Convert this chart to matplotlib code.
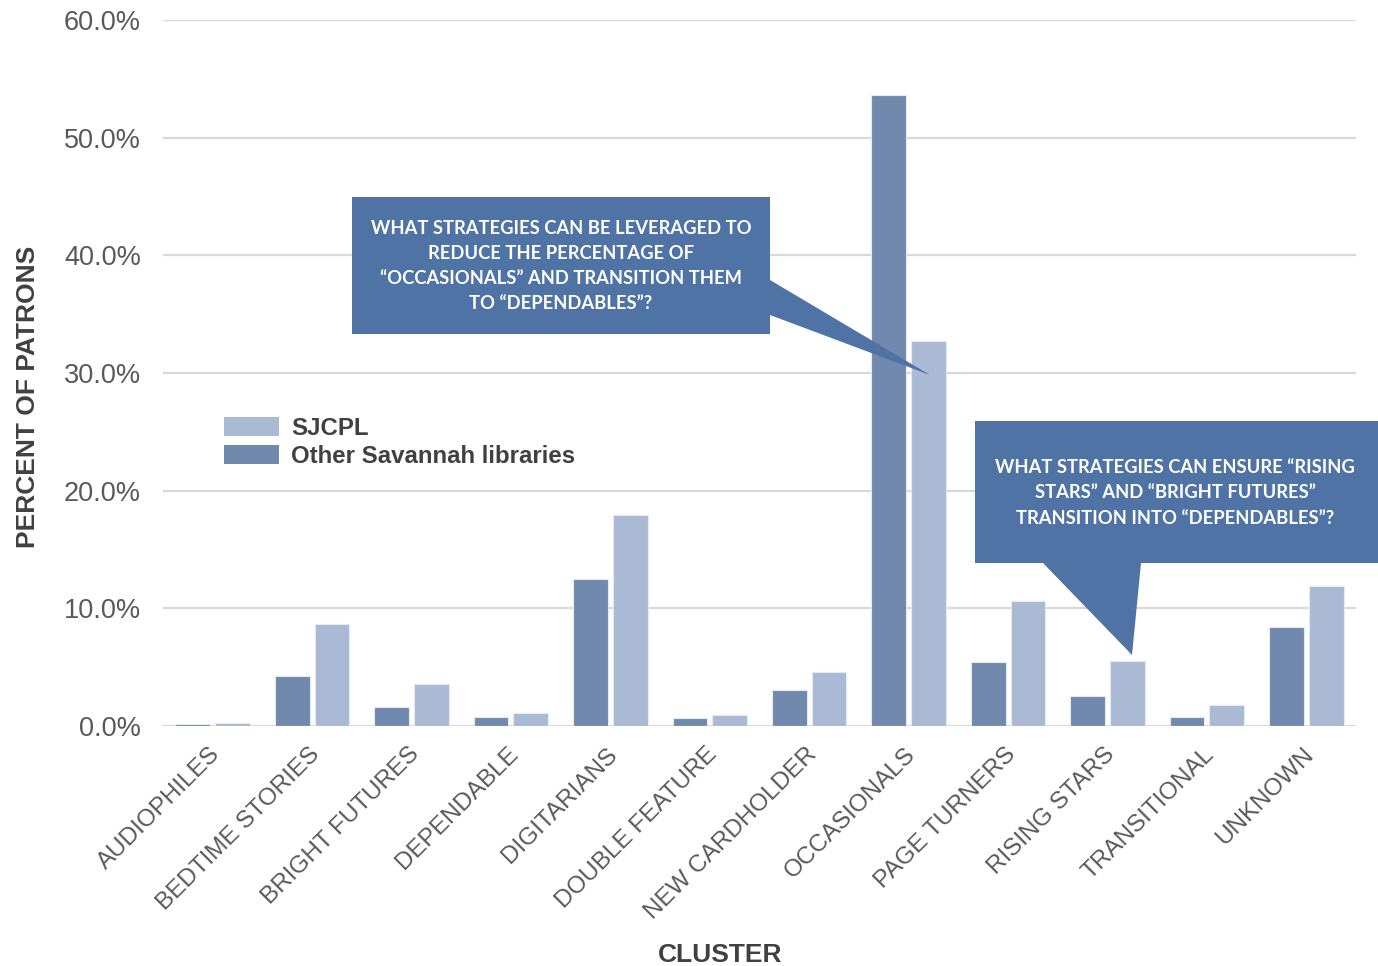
import matplotlib
matplotlib.use("Agg")

import matplotlib.pyplot as plt
import matplotlib.transforms as mtransforms
import numpy as np
from matplotlib import font_manager
from matplotlib.patches import Patch, Polygon


clusters = ["AUDIOPHILES", "BEDTIME STORIES", "BRIGHT FUTURES", "DEPENDABLE",
            "DIGITARIANS", "DOUBLE FEATURE", "NEW CARDHOLDER", "OCCASIONALS",
            "PAGE TURNERS", "RISING STARS", "TRANSITIONAL", "UNKNOWN"]
other_pct = [0.2, 4.25, 1.65, 0.75, 12.5, 0.65, 3.05, 53.6, 5.45, 2.55, 0.75, 8.4]
sjcpl_pct = [0.25, 8.65, 3.55, 1.1, 17.9, 0.95, 4.55, 32.7, 10.6, 5.5, 1.8, 11.9]
y_ticks = [0, 10, 20, 30, 40, 50, 60]

callout_1 = ("WHAT STRATEGIES CAN BE LEVERAGED TO\nREDUCE THE PERCENTAGE OF\n"
             "\u201cOCCASIONALS\u201d AND TRANSITION THEM\nTO \u201cDEPENDABLES\u201d?")
callout_2 = ("WHAT STRATEGIES CAN ENSURE \u201cRISING\nSTARS\u201d AND \u201cBRIGHT FUTURES\u201d\n"
             "TRANSITION INTO \u201cDEPENDABLES\u201d?")

SJCPL_COLOR = "#AABAD4"
OTHER_COLOR = "#7189AC"
CALLOUT_COLOR = "#4E73A4"
TEXT_COLOR = "#595959"
LABEL_COLOR = "#404040"

W, H = 1378, 966

installed = {f.name for f in font_manager.fontManager.ttflist}
narrow = "Liberation Sans Narrow" if "Liberation Sans Narrow" in installed else "Liberation Sans"

plt.rcParams["font.family"] = ["Liberation Sans", "DejaVu Sans"]


def px(x, y):
    # pixel position in the picture -> figure fraction
    return (x / W, 1 - y / H)


fig = plt.figure(figsize=(W / 100, H / 100), dpi=100)
ax = fig.add_axes([163 / W, 1 - 726 / H, (1356 - 163) / W, (726 - 20) / H])

x = np.arange(len(clusters))
width = 0.35
ax.bar(x - 0.2, other_pct, width, color=OTHER_COLOR, edgecolor="#E4EAF2", linewidth=0.8, zorder=2)
ax.bar(x + 0.2, sjcpl_pct, width, color=SJCPL_COLOR, edgecolor="#E4EAF2", linewidth=0.8, zorder=2)

ax.set_xlim(-0.5, len(clusters) - 0.5)
ax.set_ylim(0, 60)
ax.set_yticks(y_ticks)
ax.set_yticklabels([f"{v:.1f}%" for v in y_ticks], fontsize=19.5, color=TEXT_COLOR)
ax.tick_params(axis="y", length=0, pad=16)
ax.grid(axis="y", color="#D9D9D9", linewidth=1.6, zorder=0)
ax.set_axisbelow(True)
for side in ax.spines:
    ax.spines[side].set_visible(False)

ax.set_xticks(x)
ax.set_xticklabels(clusters, fontsize=17.5, color=TEXT_COLOR, rotation=45,
                   ha="right", va="center", rotation_mode="anchor")
ax.tick_params(axis="x", length=0, pad=18)
# nudge the rotated labels a little to the right
shift = mtransforms.ScaledTranslation(4 / 100, 0, fig.dpi_scale_trans)
for lbl in ax.get_xticklabels():
    lbl.set_transform(lbl.get_transform() + shift)

fig.text(*px(28, 397), "PERCENT OF PATRONS", rotation=90, ha="center", va="center",
         fontsize=19, fontweight="bold", color=LABEL_COLOR)
fig.text(*px(720, 955), "CLUSTER", ha="center", va="center",
         fontsize=22 if narrow != "Liberation Sans" else 19, fontweight="bold",
         color=LABEL_COLOR, family=[narrow, "DejaVu Sans"])

handles = [Patch(facecolor=SJCPL_COLOR), Patch(facecolor=OTHER_COLOR)]
ax.legend(handles, ["SJCPL", "Other Savannah libraries"], loc="upper left",
          bbox_to_anchor=px(224, 417), bbox_transform=fig.transFigure,
          frameon=False, borderpad=0, borderaxespad=0, handlelength=2.3,
          handleheight=0.85, handletextpad=0.5, labelspacing=0.2,
          prop={"size": 17.3, "weight": "bold"}, labelcolor=LABEL_COLOR)

box_1 = [(352, 197), (770, 197), (770, 280), (930, 375), (770, 315), (770, 334), (352, 334)]
box_2 = [(975, 421), (1378, 421), (1378, 563), (1141, 563), (1132, 655), (1043, 563), (975, 563)]
for pts in (box_1, box_2):
    fig.patches.append(Polygon([px(*p) for p in pts], closed=True, facecolor=CALLOUT_COLOR,
                               edgecolor="none", transform=fig.transFigure, zorder=5))

fig.text(*px(561, 266), callout_1, ha="center", va="center", fontsize=13.2, fontweight="bold",
         color="white", family=["Lato", "DejaVu Sans"], linespacing=1.58, zorder=6)
fig.text(*px(1175, 493), callout_2, ha="center", va="center", fontsize=13.2, fontweight="bold",
         color="white", family=["Lato", "DejaVu Sans"], linespacing=1.58, zorder=6)

fig.savefig("out.png", dpi=100, facecolor="white")
plt.close(fig)
